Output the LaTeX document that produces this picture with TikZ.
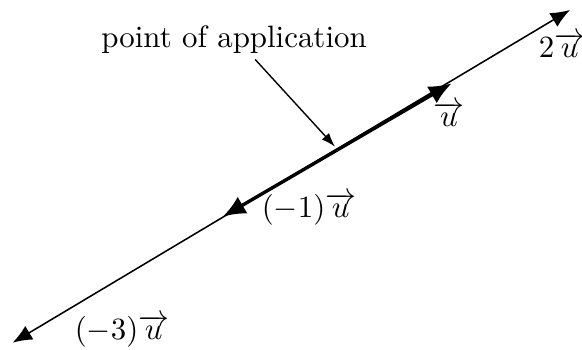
\documentclass[tikz,border=0pt]{standalone}
\usepackage{amsmath,amssymb}
\usepackage{tikz}
\usetikzlibrary{arrows.meta}

\begin{document}
\begin{tikzpicture}[
    >={Latex[length=1.4mm]},
    every path/.style={line width=0.45pt},
    vec/.style={
        line width=1.1pt,
        -{Latex[length=2.6mm,width=2.2mm]}
    },
    axis/.style={
        line width=0.5pt,
        {Latex[length=2.2mm,width=1.8mm]}-{Latex[length=2.2mm,width=1.8mm]}
    },
    lbl/.style={
        inner sep=1pt
    }
]

\useasboundingbox (0,0) rectangle (6.617,3.968);

% ==================== Line and vectors ====================
\coordinate (o)  at (3.834,2.263);
\coordinate (u)  at (5.136,3.021);
\coordinate (mu) at (2.532,1.504);
\coordinate (twou)   at (6.481,3.855);
\coordinate (mthreeu) at (0.144,0.072);

\draw[axis] (mthreeu) -- (twou);
\draw[vec] (o) -- (u);
\draw[vec] (o) -- (mu);

% ==================== Labels ====================
\node[lbl] (lu)      at (5.105,2.672) {$\overrightarrow{u}$};
\node[lbl] (ltwou)   at (6.390,3.456) {$2\overrightarrow{u}$};
\node[lbl] (lmu)     at (3.513,1.592) {$(-1)\overrightarrow{u}$};
\node[lbl] (lmthree) at (1.387,0.205) {$(-3)\overrightarrow{u}$};

% ==================== Point of application ====================
\node[lbl] (app) at (2.661,3.513) {point of application};
\coordinate (poa) at (3.809,2.300);
\draw[-{Latex[length=1.6mm,width=1.1mm]}] ([xshift=2.4mm,yshift=-0.2mm]app.south) -- (poa);

\end{tikzpicture}
\end{document}
